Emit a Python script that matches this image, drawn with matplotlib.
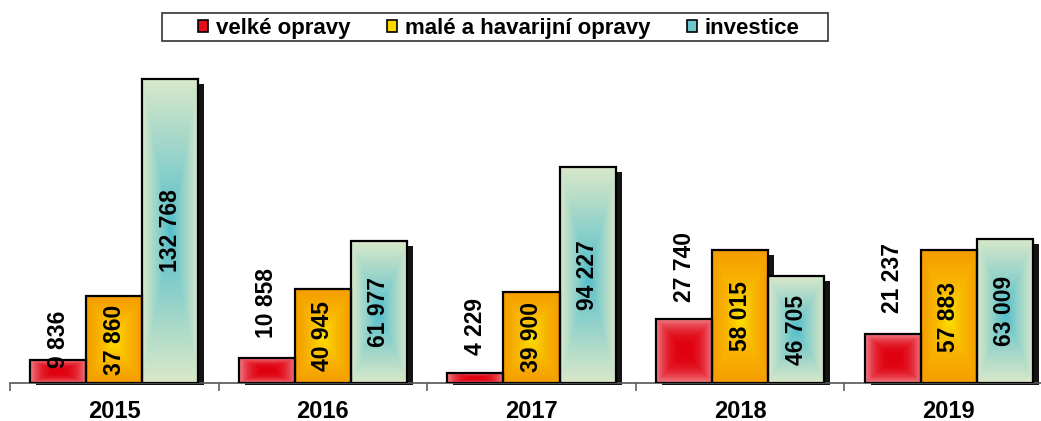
import matplotlib
matplotlib.use("Agg")
import matplotlib.pyplot as plt
from matplotlib.patches import Rectangle, Patch
import numpy as np

# data
roky = ["2015", "2016", "2017", "2018", "2019"]
velke_opravy = [9836, 10858, 4229, 27740, 21237]
male_opravy = [37860, 40945, 39900, 58015, 57883]
investice = [132768, 61977, 94227, 46705, 63009]
nazvy = ["velké opravy", "malé a havarijní opravy", "investice"]

plt.rcParams['font.family'] = ['Liberation Sans', 'DejaVu Sans']

# barvy: (stred, okraj, gamma)
barvy = [("#e0000f", "#f08088", 2.6),
         ("#fff000", "#f59c00", 0.55),
         ("#4ebdcb", "#d9e8c9", 0.9)]
legenda_barvy = ["#e0101a", "#ffd800", "#6cc8cc"]


def prechod(stred, okraj, gamma, n=240, m=60):
    # obdelnikovy prechod od stredu
    u = np.linspace(-1, 1, m)
    v = np.linspace(-1, 1, n)
    U, V = np.meshgrid(u, v)
    t = np.maximum(np.abs(U), np.abs(V)) ** gamma
    c1 = np.array(matplotlib.colors.to_rgb(stred))
    c2 = np.array(matplotlib.colors.to_rgb(okraj))
    return c1 * (1 - t[..., None]) + c2 * t[..., None]


W, H = 1041, 421
fig = plt.figure(figsize=(W / 100, H / 100), dpi=100)
ax = fig.add_axes([10 / W, 38 / H, 1043 / W, 323 / H])

sirka = 0.2685
ymax = 141000
x = np.arange(len(roky))
serie = [velke_opravy, male_opravy, investice]

px_x = 1043 / 5.0          # px na jednotku x
px_y = 323 / ymax          # px na jednotku y
dx = 6 / px_x
dy = 5 / px_y
pod = 2 / px_y

# stiny
for i, hodnoty in enumerate(serie):
    for j, h in enumerate(hodnoty):
        x0 = x[j] + (i - 1) * sirka - sirka / 2
        ax.add_patch(Rectangle((x0 + dx, -pod), sirka, h - dy + pod,
                               facecolor="#141414", edgecolor="none",
                               zorder=1, clip_on=False))

# sloupce s prechodem
for i, hodnoty in enumerate(serie):
    stred, okraj, g = barvy[i]
    for j, h in enumerate(hodnoty):
        x0 = x[j] + (i - 1) * sirka - sirka / 2
        ramecek = Rectangle((x0, 0), sirka, h, facecolor="none",
                            edgecolor="black", lw=1.6, zorder=3)
        ax.add_patch(ramecek)
        img = ax.imshow(prechod(stred, okraj, g), extent=(x0, x0 + sirka, 0, h),
                        aspect="auto", zorder=2, interpolation="bilinear")
        img.set_clip_path(ramecek)

# popisky hodnot
mezera_cervene = [-8, 20, 18, 17, 21]
for i, hodnoty in enumerate(serie):
    for j, h in enumerate(hodnoty):
        xc = x[j] + (i - 1) * sirka
        txt = f"{h:,}".replace(",", " ")
        if i == 0:
            ax.annotate(txt, (xc, h), xytext=(0, mezera_cervene[j] * 0.72),
                        textcoords="offset points", rotation=90,
                        ha="center", va="bottom", fontsize=16.5,
                        fontweight="bold", zorder=5)
        else:
            ax.text(xc, h / 2, txt, rotation=90, ha="center", va="center",
                    fontsize=16.5, fontweight="bold", zorder=5)

ax.set_xlim(-0.5, 4.5)
ax.set_ylim(0, ymax)
ax.set_yticks([])
for s in ["top", "right", "left"]:
    ax.spines[s].set_visible(False)
ax.spines["bottom"].set_color("#555555")
ax.spines["bottom"].set_linewidth(1.2)
ax.set_xticks(x)
ax.set_xticklabels(roky, fontsize=17, fontweight="bold")
ax.tick_params(axis="x", which="major", length=0, pad=12)
ax.set_xticks(np.arange(-0.5, 5, 1), minor=True)
ax.tick_params(axis="x", which="minor", length=5.5, color="#555555", width=1.1)
ax.patch.set_alpha(0)

# legenda
fig.patches.append(Rectangle((162 / W, 1 - 41 / H), 666 / W, 28 / H,
                             transform=fig.transFigure, facecolor="white",
                             edgecolor="#333333", lw=1.2, zorder=0))
handles = [Patch(facecolor=legenda_barvy[k], edgecolor="black", lw=1.2,
                 label=nazvy[k]) for k in range(3)]
fig.legend(handles=handles, loc="center", bbox_to_anchor=(499 / W, 1 - 28.5 / H),
           ncol=3, frameon=False, prop={"size": 16, "weight": "bold"},
           handlelength=0.45, handleheight=0.45, handletextpad=0.35,
           columnspacing=1.65, borderpad=0.1)

fig.savefig("out.png", dpi=100)
